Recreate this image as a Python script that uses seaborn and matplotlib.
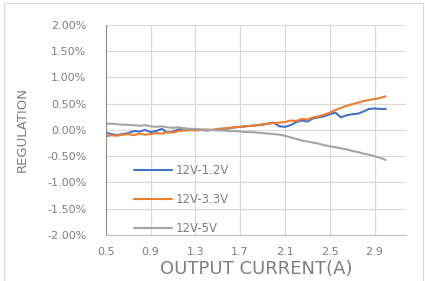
import numpy as np
import pandas as pd
import seaborn as sns
import matplotlib.pyplot as plt
from matplotlib.ticker import FuncFormatter, MultipleLocator

current = [round(0.5 + 0.05 * i, 2) for i in range(51)]

reg_1v2 = [-0.05, -0.08, -0.10, -0.08, -0.06, -0.02, -0.03, 0.00, -0.04, -0.02,
           0.02, -0.05, -0.03, 0.01, 0.03, 0.00, 0.02, 0.00, -0.01, 0.00,
           0.01, 0.02, 0.03, 0.05, 0.06, 0.07, 0.08, 0.09, 0.10, 0.12,
           0.14, 0.07, 0.06, 0.09, 0.15, 0.18, 0.16, 0.22, 0.24, 0.26,
           0.30, 0.33, 0.24, 0.28, 0.30, 0.31, 0.35, 0.40, 0.41, 0.40, 0.40]
reg_3v3 = [-0.12, -0.10, -0.11, -0.09, -0.08, -0.10, -0.07, -0.09, -0.08, -0.06,
           -0.07, -0.04, -0.05, -0.02, -0.01, 0.00, -0.01, 0.00, 0.01, 0.00,
           0.02, 0.03, 0.04, 0.05, 0.06, 0.07, 0.08, 0.09, 0.11, 0.12,
           0.13, 0.14, 0.15, 0.18, 0.17, 0.21, 0.20, 0.24, 0.26, 0.29,
           0.33, 0.38, 0.42, 0.46, 0.49, 0.52, 0.55, 0.57, 0.59, 0.61, 0.64]
reg_5v = [0.12, 0.12, 0.11, 0.10, 0.10, 0.09, 0.08, 0.09, 0.07, 0.06,
          0.07, 0.05, 0.04, 0.05, 0.03, 0.02, 0.02, 0.01, 0.00, 0.00,
          -0.01, -0.01, -0.02, -0.02, -0.03, -0.04, -0.04, -0.05, -0.06, -0.07,
          -0.08, -0.09, -0.11, -0.14, -0.17, -0.20, -0.22, -0.24, -0.26, -0.29,
          -0.31, -0.33, -0.35, -0.37, -0.40, -0.42, -0.45, -0.47, -0.50, -0.53, -0.57]

series_names = ['12V-1.2V', '12V-3.3V', '12V-5V']
colors = ['#4472C4', '#ED7D31', '#A5A5A5']
xticks = [0.5, 0.9, 1.3, 1.7, 2.1, 2.5, 2.9]

df = pd.DataFrame({
    'current': current * 3,
    'regulation': reg_1v2 + reg_3v3 + reg_5v,
    'series': [series_names[0]] * 51 + [series_names[1]] * 51 + [series_names[2]] * 51,
})

sns.set_style('white')
plt.rcParams['font.family'] = ['DejaVu Sans']
fig = plt.figure(figsize=(4.25, 2.81), dpi=100)
ax = fig.add_axes([0.249, 0.164, 0.706, 0.747])

sns.lineplot(data=df, x='current', y='regulation', hue='series',
             palette=colors, linewidth=1.5, ax=ax)

txt = '#7f7f7f'
ax.set_xlim(0.5, 3.18)
ax.set_ylim(-2.0, 2.0)
ax.set_xticks(xticks)
ax.set_xticklabels([str(t) for t in xticks])
ax.yaxis.set_major_locator(MultipleLocator(0.5))
ax.yaxis.set_major_formatter(FuncFormatter(lambda v, p: f'{v:.2f}%'))
ax.tick_params(length=0, labelsize=8, colors=txt)
ax.tick_params(axis='y', pad=14)
ax.tick_params(axis='x', pad=9)
ax.grid(True, color='#d9d9d9', linewidth=0.8)
for s in ['top', 'right']:
    ax.spines[s].set_visible(False)
ax.spines['left'].set_color('#8c8c8c')
ax.spines['bottom'].set_color('#bfbfbf')
ax.set_xlabel('OUTPUT CURRENT(A)', fontsize=13, color=txt, labelpad=2)
ax.set_ylabel('REGULATION', fontsize=9.5, color=txt, labelpad=13)

leg = ax.legend(loc='lower left', bbox_to_anchor=(0.06, -0.05), frameon=False,
                fontsize=8.5, labelspacing=1.35, handlelength=3.2, handletextpad=0.3)
for t in leg.get_texts():
    t.set_color(txt)

fig.patches.append(plt.Rectangle((0.01, -0.01), 0.985, 1.0, transform=fig.transFigure,
                                 fill=False, edgecolor='#d9d9d9', linewidth=0.8))

fig.savefig('out.png', dpi=100)
